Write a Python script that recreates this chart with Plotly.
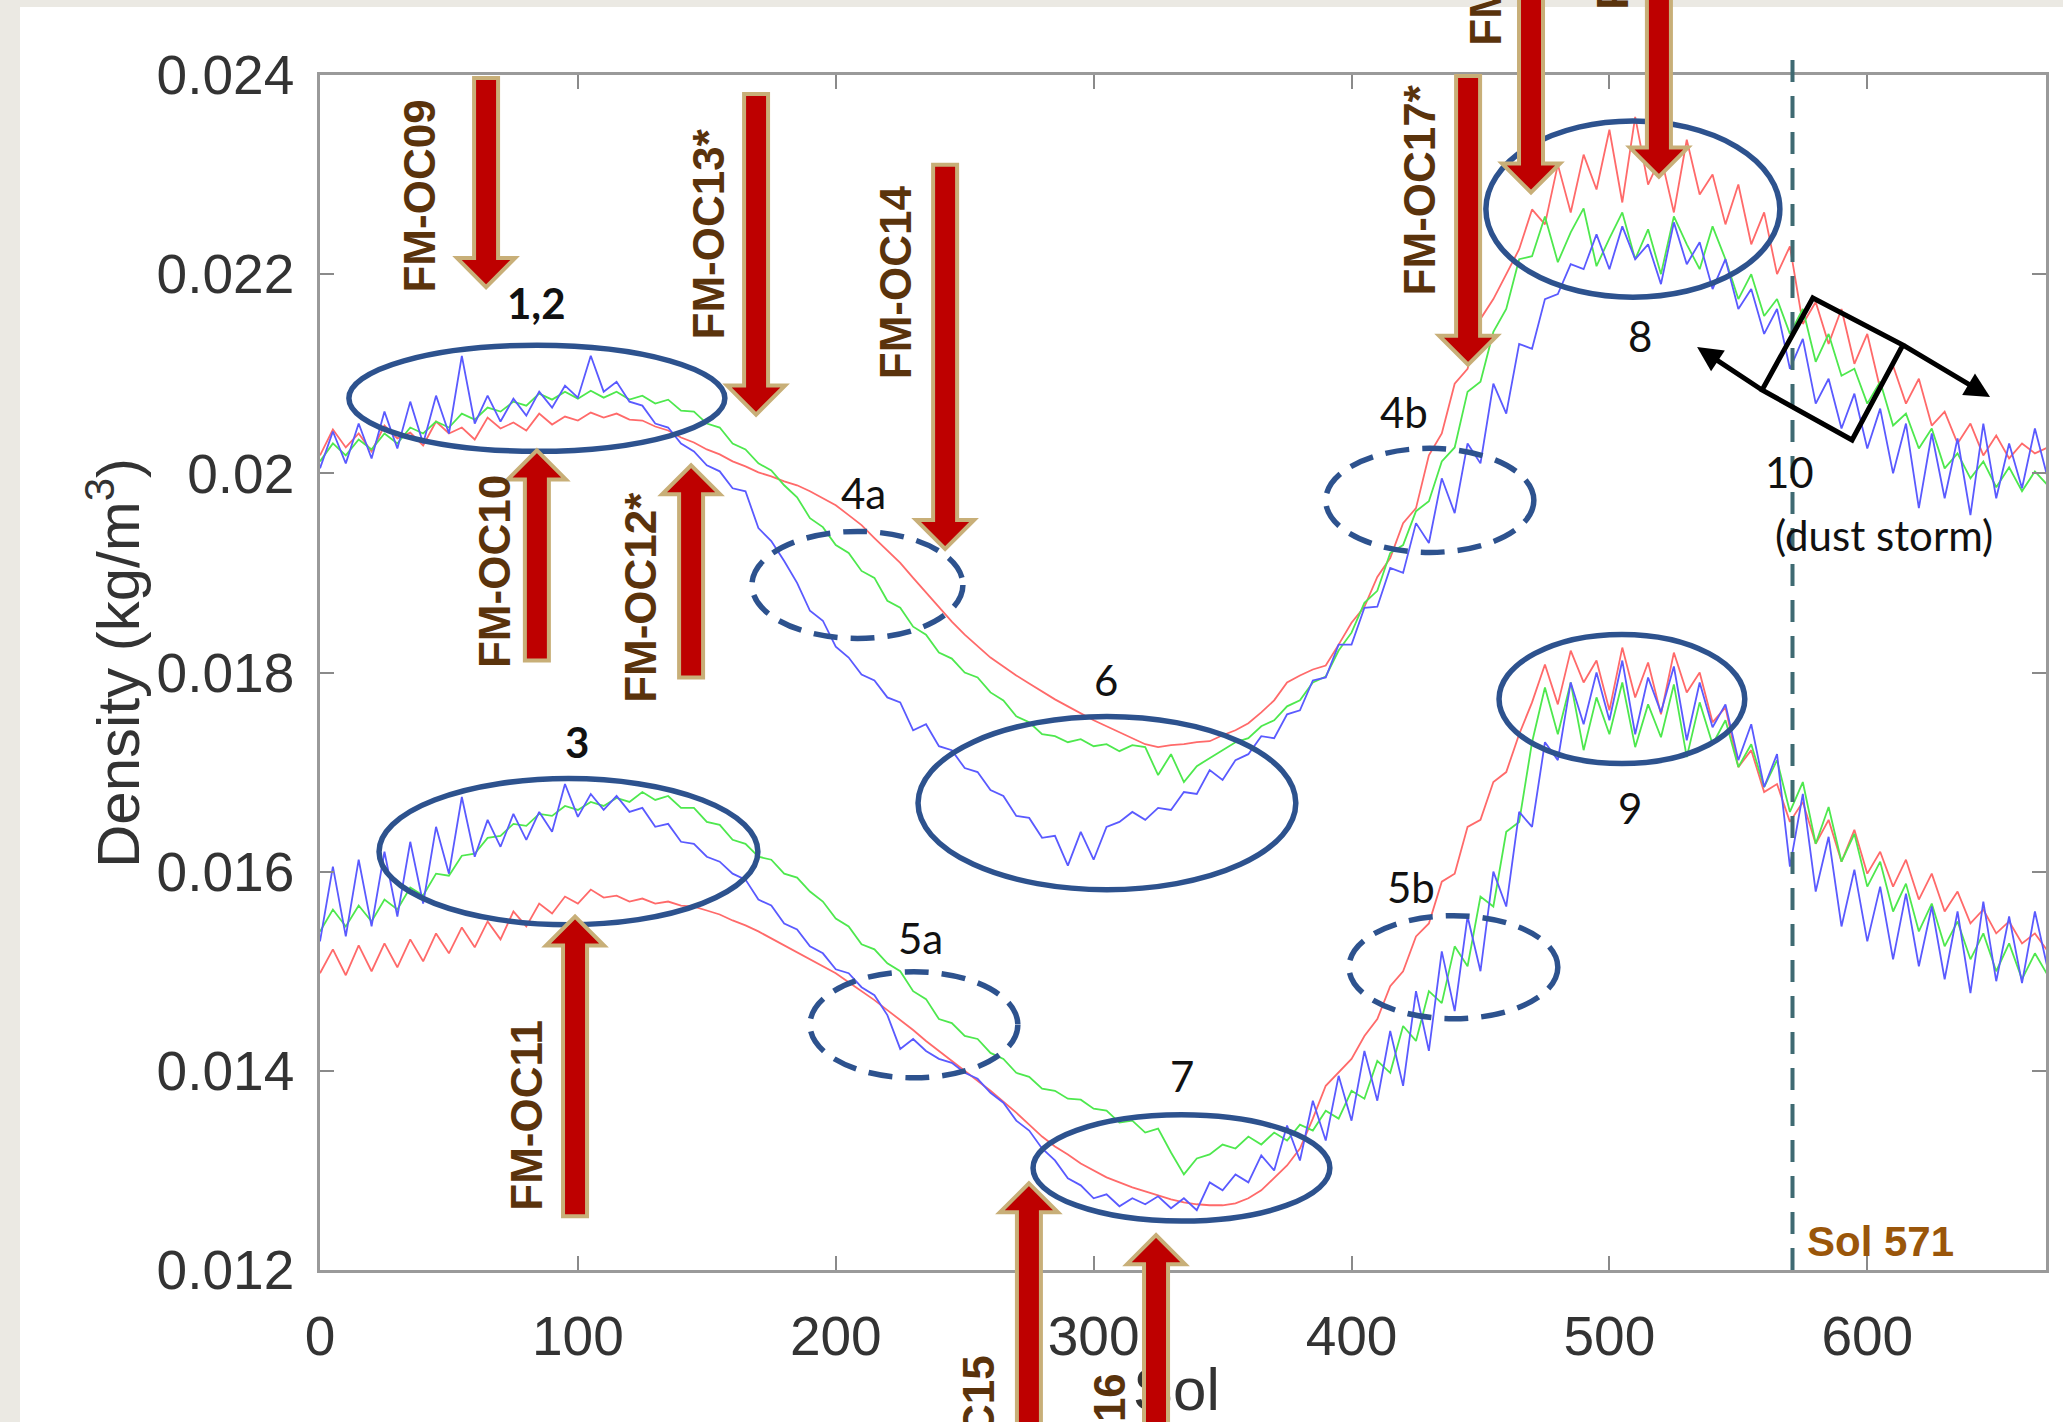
import plotly.graph_objects as go

# ---------------- data (density in units of 1e-5 kg/m^3, one value every 5 sols) ----------------
SOL = list(range(0, 671, 5))
UNIT = 1e-5

upper_red = [
    2018, 2044, 2026, 2040, 2022, 2048, 2035, 2041, 2028, 2052,
    2040, 2046, 2034, 2056, 2045, 2051, 2043, 2060, 2049, 2057,
    2053, 2061, 2056, 2060, 2054, 2053, 2047, 2043, 2036, 2031,
    2024, 2019, 2012, 2007, 2001, 1997, 1992, 1988, 1982, 1975,
    1968, 1958, 1948, 1935, 1923, 1910, 1895, 1880, 1865, 1851,
    1838, 1826, 1815, 1806, 1797, 1789, 1781, 1773, 1766, 1759,
    1752, 1746, 1740, 1734, 1728, 1725, 1727, 1728, 1730, 1731,
    1737, 1742, 1749, 1760, 1772, 1790, 1797, 1803, 1807, 1828,
    1850, 1866, 1896, 1915, 1950, 1965, 2018, 2040, 2090, 2105,
    2155, 2175, 2200, 2225, 2265, 2250, 2310, 2262, 2320, 2285,
    2345, 2272, 2358, 2290, 2318, 2262, 2335, 2280, 2300, 2250,
    2290, 2230, 2262, 2200, 2228, 2150, 2172, 2130, 2165, 2110,
    2140, 2085, 2108, 2070, 2095, 2048, 2062, 2030, 2050, 2018,
    2038, 2015, 2030, 2020, 2026,
]
upper_green = [
    2012, 2030, 2018, 2034, 2024, 2040, 2030, 2046, 2040, 2052,
    2046, 2060, 2054, 2066, 2062, 2072, 2068, 2080, 2074, 2082,
    2075, 2083, 2076, 2082, 2074, 2078, 2070, 2074, 2063, 2062,
    2050, 2046, 2030, 2024, 2010, 2003, 1988, 1976, 1955, 1946,
    1928, 1920, 1902, 1895, 1872, 1865, 1846, 1838, 1820, 1814,
    1800, 1795, 1780, 1772, 1756, 1750, 1738, 1736, 1730, 1733,
    1726, 1728, 1721, 1727, 1725, 1697, 1718, 1690, 1706, 1714,
    1722, 1730, 1734, 1746, 1752, 1766, 1772, 1790, 1796, 1822,
    1840, 1870, 1882, 1920, 1928, 1962, 1972, 2012, 2026, 2082,
    2092, 2142, 2165, 2215, 2218, 2258, 2212, 2242, 2266, 2208,
    2236, 2262, 2215, 2245, 2200, 2258, 2230, 2205, 2248, 2215,
    2175, 2200, 2158, 2175, 2140, 2165, 2112, 2140, 2098, 2105,
    2070, 2092, 2048, 2060, 2025, 2045, 2005, 2020, 1995, 2012,
    1986, 2006, 1982, 2002, 1988,
]
upper_blue = [
    2005, 2042, 2010, 2050, 2015, 2062, 2025, 2072, 2030, 2078,
    2040, 2118, 2050, 2078, 2052, 2075, 2058, 2082, 2066, 2088,
    2076, 2118, 2082, 2092, 2072, 2068, 2050, 2046, 2030, 2022,
    2008, 2002, 1985, 1982, 1945, 1932, 1912, 1890, 1862, 1852,
    1826, 1815, 1798, 1792, 1775, 1770, 1742, 1748, 1726, 1722,
    1704, 1700, 1682, 1676, 1656, 1654, 1634, 1636, 1606, 1640,
    1612, 1645, 1650, 1660, 1652, 1664, 1662, 1680, 1678, 1702,
    1692, 1712, 1718, 1736, 1734, 1758, 1762, 1792, 1795, 1828,
    1828, 1865, 1866, 1905, 1900, 1950, 1930, 1995, 1960, 2030,
    2010, 2090, 2060, 2130, 2125, 2175, 2180, 2210, 2205, 2240,
    2205, 2248, 2215, 2230, 2190, 2252, 2210, 2232, 2185, 2215,
    2165, 2185, 2140, 2165, 2105, 2135, 2070, 2095, 2045, 2080,
    2025, 2065, 2000, 2050, 1965, 2040, 1975, 2035, 1958, 2050,
    1975, 2030, 1985, 2045, 1995,
]
lower_red = [
    1498, 1522, 1496, 1526, 1500, 1528, 1504, 1532, 1510, 1538,
    1518, 1544, 1524, 1550, 1532, 1560, 1545, 1568, 1558, 1575,
    1568, 1582, 1574, 1576, 1570, 1573, 1568, 1570, 1566, 1565,
    1561, 1557, 1551, 1546, 1540, 1533, 1526, 1519, 1512, 1505,
    1498, 1489, 1480, 1471, 1461, 1451, 1441, 1430, 1420, 1410,
    1400, 1390, 1380, 1369, 1358, 1346, 1334, 1324, 1316, 1307,
    1300, 1293, 1288, 1283, 1279, 1275, 1271, 1268, 1266, 1265,
    1265, 1267, 1272, 1280, 1292, 1305, 1322, 1352, 1385, 1398,
    1412, 1435, 1452, 1485, 1500, 1535, 1548, 1590, 1598, 1645,
    1652, 1690, 1700, 1738, 1770, 1808, 1768, 1822, 1790, 1812,
    1762, 1825, 1775, 1810, 1758, 1820, 1780, 1800, 1750, 1765,
    1705, 1722, 1680, 1688, 1650, 1670, 1628, 1652, 1610, 1642,
    1598, 1620, 1585, 1612, 1572, 1598, 1560, 1580, 1548, 1562,
    1538, 1550, 1528, 1538, 1520,
]
lower_green = [
    1540, 1562, 1545, 1566, 1550, 1572, 1562, 1584, 1576, 1598,
    1596, 1616, 1618, 1634, 1636, 1648, 1646, 1658, 1656, 1666,
    1662, 1670, 1666, 1674, 1670, 1680, 1672, 1676, 1664, 1664,
    1650, 1647, 1632, 1628, 1615, 1612, 1598, 1594, 1580, 1570,
    1553, 1545, 1527, 1522, 1508, 1500, 1480, 1472, 1452, 1448,
    1435, 1432, 1418, 1412, 1398, 1394, 1382, 1380, 1372, 1371,
    1362, 1360, 1348, 1350, 1338, 1342, 1318, 1296, 1312, 1316,
    1326, 1322, 1334, 1326, 1338, 1330, 1346, 1340, 1360, 1352,
    1380, 1372, 1410, 1398, 1445, 1430, 1480, 1468, 1525, 1505,
    1575, 1565, 1640, 1650, 1730, 1785, 1738, 1790, 1722, 1775,
    1738, 1790, 1725, 1768, 1735, 1788, 1715, 1770, 1728, 1752,
    1705, 1728, 1685, 1712, 1660, 1690, 1628, 1665, 1610, 1638,
    1585, 1610, 1560, 1588, 1540, 1568, 1525, 1550, 1512, 1538,
    1500, 1528, 1492, 1518, 1496,
]
lower_blue = [
    1530, 1605, 1535, 1612, 1545, 1620, 1555, 1630, 1568, 1645,
    1598, 1675, 1615, 1652, 1625, 1658, 1632, 1660, 1640, 1688,
    1655, 1678, 1662, 1676, 1660, 1664, 1645, 1648, 1630, 1628,
    1615, 1610, 1598, 1592, 1572, 1566, 1548, 1542, 1525, 1518,
    1502, 1498, 1484, 1476, 1456, 1422, 1432, 1420, 1412, 1408,
    1398, 1392, 1378, 1368, 1350, 1340, 1322, 1310, 1292, 1285,
    1272, 1276, 1264, 1272, 1266, 1274, 1262, 1272, 1260, 1288,
    1280, 1296, 1288, 1315, 1300, 1345, 1310, 1370, 1330, 1395,
    1350, 1420, 1370, 1440, 1385, 1480, 1420, 1520, 1460, 1555,
    1500, 1600, 1565, 1660, 1645, 1730, 1712, 1790, 1748, 1800,
    1752, 1812, 1738, 1795, 1760, 1806, 1732, 1790, 1745, 1768,
    1712, 1748, 1685, 1718, 1605, 1678, 1580, 1635, 1545, 1602,
    1530, 1585, 1512, 1578, 1505, 1565, 1492, 1560, 1478, 1570,
    1490, 1555, 1488, 1560, 1502,
]

X_TICKS = [0, 100, 200, 300, 400, 500, 600]
Y_TICKS = [0.012, 0.014, 0.016, 0.018, 0.020, 0.022, 0.024]
Y_TICK_TEXT = ["0.012", "0.014", "0.016", "0.018", "0.02", "0.022", "0.024"]
X_RANGE = [0, 669.3]
Y_RANGE = [0.012, 0.024]
DUST_STORM_SOL = 571

# ---------------- annotations (data coordinates) ----------------
# (label, arrow sol, tail density, tip density, label sol, label density)
MISSION_ARROWS = [
    ("FM-OC09", 64.4, 0.02397, 0.02187, 38.4, 0.02278),
    ("FM-OC10", 84.1, 0.01812, 0.02023, 67.9, 0.01901),
    ("FM-OC12*", 143.9, 0.01795, 0.02008, 124.5, 0.01875),
    ("FM-OC13*", 169.1, 0.02381, 0.02059, 150.5, 0.02240),
    ("FM-OC14", 242.4, 0.02310, 0.01924, 223.0, 0.02192),
    ("FM-OC17*", 445.2, 0.02399, 0.02109, 426.5, 0.02285),
    ("FM-OC18", 469.6, 0.02495, 0.02282, 451.8, 0.02526),
    ("FM-OC19", 519.2, 0.02495, 0.02298, 501.4, 0.02562),
    ("FM-OC11", 98.9, 0.01254, 0.01555, 80.3, 0.01355),
    ("FM-OC15", 274.9, 0.01029, 0.01287, 255.2, 0.01017),
    ("FM-OC16", 324.2, 0.01029, 0.01235, 306.0, 0.00999),
]
# (sol0, sol1, dens0, dens1, dashed)
REGIONS = [
    (11.2, 157.0, 0.020221, 0.021286, False),
    (22.9, 169.8, 0.015467, 0.016935, False),
    (167.5, 249.3, 0.018342, 0.019417, True),
    (190.0, 270.6, 0.013930, 0.014995, True),
    (231.9, 378.4, 0.015819, 0.017558, False),
    (276.5, 391.6, 0.012492, 0.013558, False),
    (390.0, 470.7, 0.019206, 0.020251, True),
    (399.0, 480.0, 0.014523, 0.015558, True),
    (452.1, 566.1, 0.021769, 0.023538, False),
    (457.2, 552.5, 0.017085, 0.018382, False),
]
# (text, sol, density, bold)
REGION_LABELS = [
    ("1,2", 84.1, 0.02171, True), ("3", 99.7, 0.01730, True),
    ("4a", 210.9, 0.01980, False), ("5a", 232.7, 0.01533, False),
    ("6", 304.8, 0.01792, False), ("7", 334.3, 0.01395, False),
    ("4b", 420.3, 0.02062, False), ("5b", 423.1, 0.01585, False),
    ("8", 511.9, 0.02138, False), ("9", 508.0, 0.01664, False),
    ("10", 570.0, 0.02001, False), ("(dust storm)", 606.5, 0.01938, False),
]
STORM_BOX = [(578.9, 0.021761), (613.8, 0.021289), (594.1, 0.020335), (559.2, 0.020837)]
STORM_ARROWS = [((559.2, 0.020837), (534.0, 0.021268)), ((613.8, 0.021289), (647.6, 0.020767))]

# ---------------- geometry ----------------
W, H = 2063, 1422
ML, MR, MT, MB = 320, 17, 75, 152
PW, PH = W - ML - MR, H - MT - MB


def data_to_px(sol, d):
    x = ML + (sol - X_RANGE[0]) / (X_RANGE[1] - X_RANGE[0]) * PW
    y = H - MB - (d - Y_RANGE[0]) / (Y_RANGE[1] - Y_RANGE[0]) * PH
    return x, y


def px_to_paper(x, y):
    return (x - ML) / PW, (H - MB - y) / PH


def data_to_paper(sol, d):
    return px_to_paper(*data_to_px(sol, d))


fig = go.Figure()
series = [
    (upper_red, "#ff6a6a"), (upper_green, "#4ee84e"), (upper_blue, "#5a5aff"),
    (lower_red, "#ff6a6a"), (lower_green, "#4ee84e"), (lower_blue, "#5a5aff"),
]
for vals, col in series:
    fig.add_trace(go.Scatter(x=SOL, y=[v * UNIT for v in vals], mode="lines",
                             line=dict(color=col, width=1.8), hoverinfo="skip"))

shapes = []
# white slide panel
px0, py1 = px_to_paper(20, 7)
px1, py0 = px_to_paper(W + 10, H + 10)
shapes.append(dict(type="rect", xref="paper", yref="paper", x0=px0, x1=px1, y0=py0, y1=py1,
                   fillcolor="white", line=dict(width=0), layer="below"))

# ellipses
for s0, s1, d0, d1, dashed in REGIONS:
    shapes.append(dict(type="circle", xref="x", yref="y", x0=s0, x1=s1, y0=d0, y1=d1,
                       line=dict(color="#2d528e", width=5.5, dash="24px,13px" if dashed else "solid")))

# dust storm dashed line
lx, _ = data_to_paper(DUST_STORM_SOL, Y_RANGE[0])
shapes.append(dict(type="line", xref="paper", yref="paper", x0=lx, x1=lx, y0=0,
                   y1=px_to_paper(0, 59)[1], line=dict(color="#3f6a72", width=4, dash="22px,14px")))

# rotated storm box
box_pts = [data_to_paper(s, d) for s, d in STORM_BOX]
shapes.append(dict(type="path", xref="paper", yref="paper",
                   path="M " + " L ".join(f"{x:.5f},{y:.5f}" for x, y in box_pts) + " Z",
                   line=dict(color="black", width=5)))


def arrow_path(sol, d_tail, d_tip, shaft=12, head=29, head_len=29):
    cx, ty = data_to_px(sol, d_tail)
    _, py = data_to_px(sol, d_tip)
    s = 1 if py > ty else -1
    base = py - s * head_len
    pts = [(cx - shaft, ty), (cx + shaft, ty), (cx + shaft, base), (cx + head, base),
           (cx, py), (cx - head, base), (cx - shaft, base)]
    conv = [px_to_paper(x, y) for x, y in pts]
    return "M " + " L ".join(f"{x:.5f},{y:.5f}" for x, y in conv) + " Z"


for label, sol, dt, dp, ls, ld in MISSION_ARROWS:
    shapes.append(dict(type="path", xref="paper", yref="paper", path=arrow_path(sol, dt, dp),
                       fillcolor="#be0000", line=dict(color="#c8af78", width=4)))

annotations = []
for label, sol, dt, dp, ls, ld in MISSION_ARROWS:
    ax_, ay_ = data_to_paper(ls, ld)
    annotations.append(dict(text=label, x=ax_, y=ay_, xref="paper", yref="paper", showarrow=False,
                            textangle=-90, xanchor="center", yanchor="middle",
                            font=dict(family="Liberation Sans, Arial", size=44, color="#5a330c",
                                      weight="bold")))

for text, sol, d, bold in REGION_LABELS:
    ax_, ay_ = data_to_paper(sol, d)
    annotations.append(dict(text=f"<b>{text}</b>" if bold else text, x=ax_, y=ay_, xref="paper",
                            yref="paper", showarrow=False, xanchor="center", yanchor="middle",
                            font=dict(family="Lato, Open Sans, sans-serif", size=42, color="#111111")))

for (ts, td), (hs, hd) in STORM_ARROWS:
    annotations.append(dict(text="", x=hs, y=hd, xref="x", yref="y", ax=ts, ay=td, axref="x",
                            ayref="y", showarrow=True, arrowhead=2, arrowsize=1, arrowwidth=5,
                            arrowcolor="black", standoff=0, startstandoff=0))

sx, sy = data_to_paper(605.0, 0.01229)
annotations.append(dict(text="<b>Sol 571</b>", x=sx, y=sy, xref="paper", yref="paper", showarrow=False,
                        xanchor="center", yanchor="middle",
                        font=dict(family="Liberation Sans, Arial", size=42, color="#9a560a")))

# axis titles
tx, ty = px_to_paper(114, 663)
annotations.append(dict(text="Density (kg/m<sup>3</sup>)", x=tx, y=ty, xref="paper", yref="paper",
                        showarrow=False, textangle=-90, xanchor="center", yanchor="middle",
                        font=dict(family="Liberation Sans, Arial", size=60, color="#333333")))
tx, ty = px_to_paper(1176, 1389)
annotations.append(dict(text="Sol", x=tx, y=ty, xref="paper", yref="paper", showarrow=False,
                        xanchor="center", yanchor="middle",
                        font=dict(family="Liberation Sans, Arial", size=60, color="#333333")))
# shaft of the FM-OC16 arrow passing in front of the axis title (outline, then fill)
cx16, _ = data_to_px(324.2, 0.0125)
bx, by = px_to_paper(cx16, 1375)
for wdt, col in ((28, "#c8af78"), (20, "#be0000")):
    annotations.append(dict(text="&nbsp;", x=bx, y=by, xref="paper", yref="paper", showarrow=False,
                            width=wdt, height=130, bgcolor=col, borderwidth=0, borderpad=0,
                            xanchor="center", yanchor="middle", font=dict(size=10, color=col)))

axis_common = dict(ticks="inside", ticklen=14, tickwidth=2, tickcolor="#8a8a8a", showline=True,
                   linecolor="#9a9a9a", linewidth=2.5, mirror="ticks", showgrid=False, zeroline=False,
                   tickfont=dict(family="Liberation Sans, Arial", size=55, color="#333333"))

fig.update_layout(
    width=W, height=H,
    margin=dict(l=ML, r=MR, t=MT, b=MB, autoexpand=False),
    paper_bgcolor="#ebe9e3", plot_bgcolor="white", showlegend=False,
    xaxis=dict(range=X_RANGE, tickvals=X_TICKS, ticktext=[str(v) for v in X_TICKS],
               ticklabelstandoff=16, **axis_common),
    yaxis=dict(range=Y_RANGE, tickvals=Y_TICKS, ticktext=Y_TICK_TEXT, ticklabelstandoff=12,
               **axis_common),
    shapes=shapes, annotations=annotations,
)

fig.write_html("out.html", config={"displayModeBar": False},
               post_script="document.body.style.margin='0px';document.body.style.background='#ebe9e3';")
